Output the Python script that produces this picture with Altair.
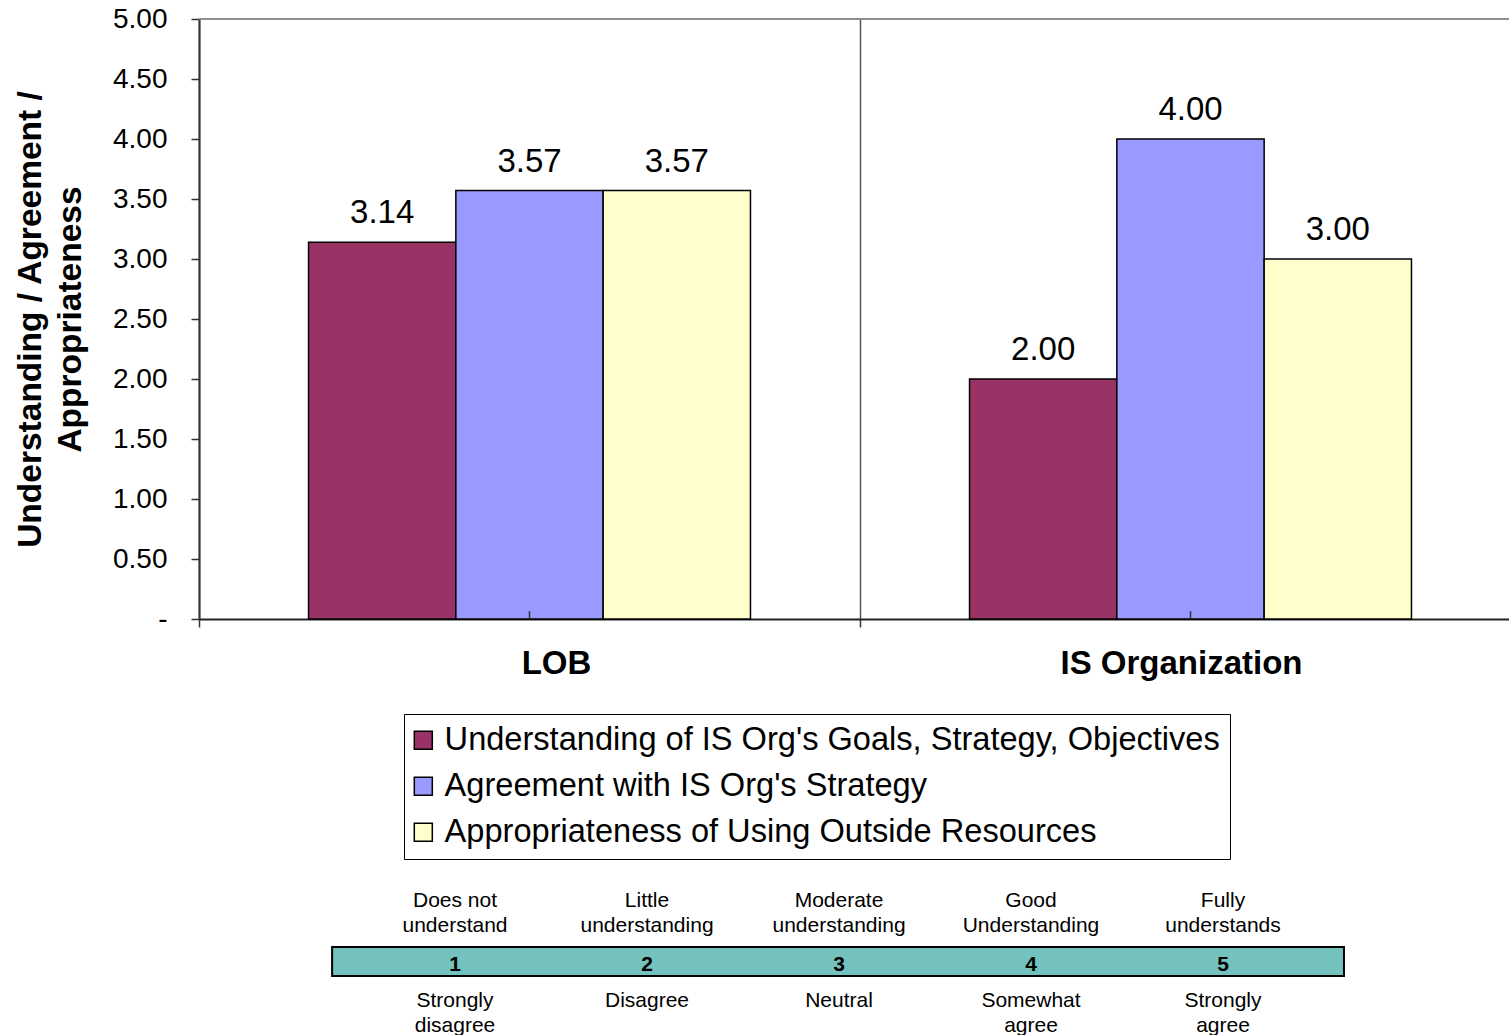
import altair as alt
import pandas as pd

# ---- chart data ----
groups = ["LOB", "IS Organization"]
series = [
    "Understanding of IS Org's Goals, Strategy, Objectives",
    "Agreement with IS Org's Strategy",
    "Appropriateness of Using Outside Resources",
]
lob_values = [3.14, 3.57, 3.57]
is_values = [2.00, 4.00, 3.00]
series_colors = ["#993366", "#9999FF", "#FFFFCC"]
y_ticks = [0, 0.5, 1.0, 1.5, 2.0, 2.5, 3.0, 3.5, 4.0, 4.5, 5.0]

# ---- rating scale key ----
scale_levels = [1, 2, 3, 4, 5]
understanding_labels = [
    "Does not\nunderstand",
    "Little\nunderstanding",
    "Moderate\nunderstanding",
    "Good\nUnderstanding",
    "Fully\nunderstands",
]
agreement_labels = [
    "Strongly\ndisagree",
    "Disagree",
    "Neutral",
    "Somewhat\nagree",
    "Strongly\nagree",
]
scale_span = [0.36, 5.63]

FONT = "Liberation Sans"

rows = []
for g, vals in zip(groups, [lob_values, is_values]):
    for s, v in zip(series, vals):
        rows.append({"group": g, "series": s, "value": v})
bars_df = pd.DataFrame(rows)
groups_df = pd.DataFrame({"group": groups})

key_df = pd.DataFrame({
    "level": scale_levels,
    "upper": understanding_labels,
    "lower": agreement_labels,
})
span_df = pd.DataFrame({"start": [scale_span[0]], "end": [scale_span[1]],
                        "bottom": [0], "top": [1]})

# ---- main grouped bar chart ----
x_scale = alt.Scale(range=[0, 1322], paddingInner=0, paddingOuter=0)
x_enc = alt.X(
    "group:N",
    sort=groups,
    scale=x_scale,
    axis=alt.Axis(
        title=None, labels=False,
        tickBand="extent", tickSize=8,
        tickColor="#333", tickWidth=1.5, grid=True, gridColor="#555",
        gridWidth=1.5, domainColor="#222", domainWidth=2,
    ),
)
y_enc = alt.Y(
    "value:Q",
    scale=alt.Scale(domain=[0, 5], nice=False, zero=True),
    axis=alt.Axis(
        values=y_ticks,
        labelExpr="datum.value == 0 ? '-\u00a0\u00a0\u00a0\u00a0' : format(datum.value, '.2f')",
        labelFontSize=28, labelColor="black", labelPadding=24,
        tickSize=8, tickColor="#333", tickWidth=1.5,
        domainColor="#333", domainWidth=2, grid=False,
        title=["Understanding / Agreement /", "Appropriateness"],
        titleFontSize=33.5, titleFontWeight="bold", titleColor="black",
        titleLineHeight=40, titleAngle=-90, titleAlign="center",
        titleBaseline="top", titleX=-185, titleY=300,
    ),
)
# bars fill the middle two thirds of each category slot
offset_enc = alt.XOffset("series:N", sort=series,
                         scale=alt.Scale(paddingInner=0, paddingOuter=0.7436))

color_enc = alt.Color(
    "series:N",
    sort=series,
    scale=alt.Scale(domain=series, range=series_colors),
    legend=alt.Legend(
        orient="none", legendX=205, legendY=695, title=None,
        symbolType="square", symbolSize=324, symbolStrokeColor="black",
        symbolStrokeWidth=1.5, symbolOffset=-7,
        labelFontSize=32.6, labelColor="black",
        labelLimit=2000, labelOffset=5, rowPadding=13, padding=10,
        strokeColor="black", fillColor="white", cornerRadius=0,
    ),
)

top_border = alt.Chart(groups_df).mark_rule(color="#888", strokeWidth=1.5).encode(
    y=alt.datum(5)
)

bars = alt.Chart(bars_df).mark_bar(stroke="black", strokeWidth=1.5).encode(
    x=x_enc, xOffset=offset_enc, y=y_enc, color=color_enc
)

bar_labels = alt.Chart(bars_df).mark_text(
    dy=-29, fontSize=33, color="black", font=FONT
).encode(
    x=alt.X("group:N", sort=groups),
    xOffset=alt.XOffset("series:N", sort=series),
    y="value:Q",
    text=alt.Text("value:Q", format=".2f"),
)

center_ticks = alt.Chart(groups_df).mark_rule(color="#333", strokeWidth=1.5).encode(
    x=alt.X("group:N", sort=groups), y=alt.value(592), y2=alt.value(600)
)


def category_label(name, shift):
    """Bold category caption under the axis, nudged sideways by `shift` px."""
    return alt.Chart(groups_df).mark_text(
        fontSize=33, fontWeight="bold", color="black", baseline="middle",
        dx=shift, font=FONT
    ).encode(
        x=alt.X("group:N", sort=groups),
        y=alt.value(645),
        text="group:N",
    ).transform_filter(alt.datum.group == name)


main = alt.layer(
    top_border, bars, bar_labels, center_ticks,
    category_label("LOB", 27), category_label("IS Organization", -9),
)

# ---- rating scale key below the legend ----
key_x = alt.Scale(domain=[1, 5], range=[256, 1024])
key_y = alt.Scale(domain=[0, 1], range=[957, 928])

strip = alt.Chart(span_df).mark_rect(
    fill="#74c2bd", stroke="black", strokeWidth=2
).encode(
    x=alt.X("start:Q", scale=key_x, axis=None),
    x2="end:Q",
    y=alt.Y("bottom:Q", scale=key_y, axis=None),
    y2="top:Q",
)

numbers = alt.Chart(key_df).mark_text(
    fontSize=21, fontWeight="bold", color="black", baseline="middle",
    dy=3, font=FONT
).encode(
    x=alt.X("level:Q", scale=key_x, axis=None),
    y=alt.Y("mid:Q", scale=key_y, axis=None),
    text="level:Q",
).transform_calculate(mid="0.5")

upper_text = alt.Chart(key_df).mark_text(
    fontSize=21, color="black", baseline="top", lineBreak="\n",
    lineHeight=25, dy=-57, font=FONT
).encode(
    x=alt.X("level:Q", scale=key_x, axis=None),
    y=alt.Y("one:Q", scale=key_y, axis=None),
    text="upper:N",
).transform_calculate(one="1")

lower_text = alt.Chart(key_df).mark_text(
    fontSize=21, color="black", baseline="top", lineBreak="\n",
    lineHeight=25, dy=14, font=FONT
).encode(
    x=alt.X("level:Q", scale=key_x, axis=None),
    y=alt.Y("zero:Q", scale=key_y, axis=None),
    text="lower:N",
).transform_calculate(zero="0")

key = alt.layer(strip, numbers, upper_text, lower_text)

chart = (
    alt.layer(main, key)
    .resolve_scale(x="independent", y="independent")
    .properties(
        width=1310,
        height=600,
        padding={"left": 199, "top": 19, "right": 0, "bottom": 416},
        autosize=alt.AutoSizeParams(type="none"),
        background="white",
    )
    .configure_view(stroke=None)
    .configure(font=FONT)
)

chart.save("out.html", embed_options={"renderer": "svg", "actions": False})
